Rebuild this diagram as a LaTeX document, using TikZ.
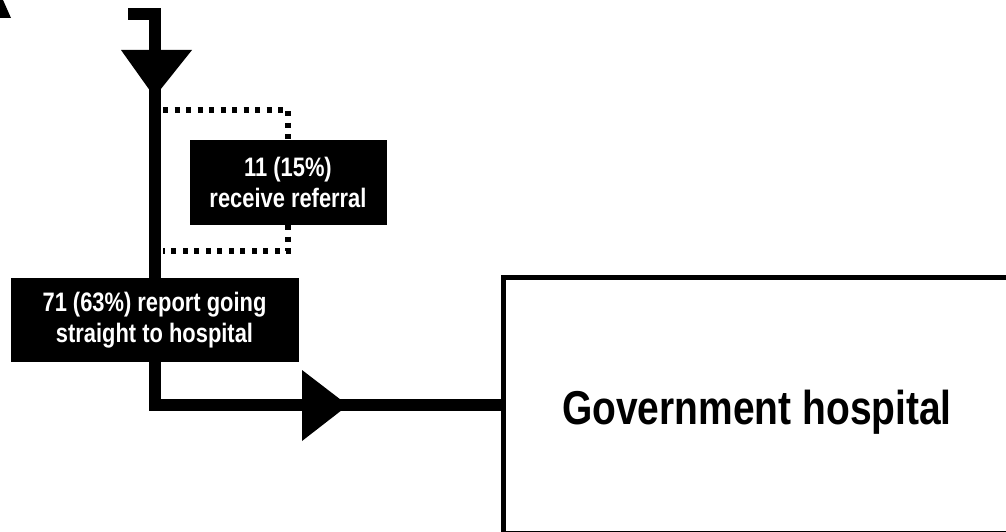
\documentclass[tikz,border=0pt]{standalone}
\usepackage{fontspec}
\newfontfamily\narrowbf[FakeStretch=0.82]{Liberation Sans Bold}
\usetikzlibrary{calc}
\begin{document}
\begin{tikzpicture}[x=1pt,y=-1pt,
  flow/.style={line width=12pt,line join=miter},
  dots/.style={line width=5.5pt,dash pattern=on 5pt off 6.5pt},
  head/.style={fill=black},
  blackbox/.style={fill=black,text=white,inner sep=0pt,outer sep=0pt,align=center,
    font=\narrowbf\fontsize{26.7}{31.5}\selectfont},
  hospbox/.style={draw=black,line width=5pt,inner sep=0pt,outer sep=0pt,fill=white},
  hosplabel/.style={font=\narrowbf\fontsize{47.5}{57}\selectfont,inner sep=0pt}]
\useasboundingbox (0,0) rectangle (1006,532);
\clip (0,0) rectangle (1006,532);
% partial arrowhead at top left
\fill (0,0) -- (3,0) -- (11,18) -- (0,18) -- cycle;
% nodes
\node[blackbox,minimum width=197pt,minimum height=85pt] (ref) at (288,182.5) {11 (15\%)\\receive referral};
\node[blackbox,minimum width=288pt,minimum height=84pt] (straight) at (154.5,320) {71 (63\%) report going\\straight to hospital};
\node[hospbox,anchor=north west,minimum width=515pt,minimum height=255.5pt] (hosp) at (503,277.5) {};
\node[hosplabel,anchor=base] (hosptext) at (757,424) {Government hospital};
% coordinates
\coordinate (start) at (128,14.5);
\coordinate (bt) at (163,110);
\coordinate (bb) at (163,251);
% main flow
\draw[flow] (start) -| (straight.north);
\draw[flow] (straight.south) |- (hosp.west);
% arrowheads
\fill[head] (121,50) -- (192,50) -- (154.5,97) -- cycle;
\fill[head] (302,370) -- (348,405.3) -- (302,441) -- cycle;
% dotted referral branch
\draw[dots] (bt) -| (ref.north);
\draw[dots] (ref.south) |- (bb);
\end{tikzpicture}
\end{document}
